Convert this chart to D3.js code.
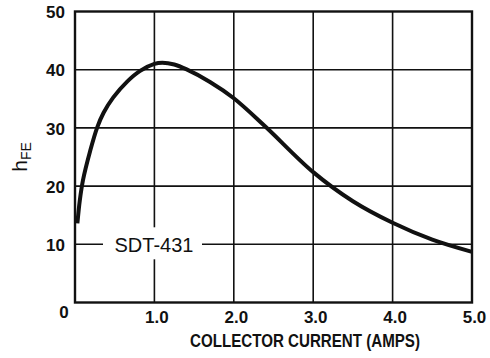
<!DOCTYPE html>
<html>
<head>
<meta charset="utf-8">
<script src="https://cdn.jsdelivr.net/npm/d3@7"></script>
<style>
  html, body { margin: 0; padding: 0; background: #fff; }
  svg { display: block; }
</style>
</head>
<body>
<svg id="chart" width="490" height="358"></svg>
<script>
// ---- data ----
const currentAmps = [0.03, 0.06, 0.10, 0.19, 0.28, 0.36, 0.48, 0.66, 0.82, 1.0, 1.1, 1.25, 1.4, 1.7, 2.0, 2.4, 3.0, 3.5, 4.0, 4.5, 5.0];
const hfeValues   = [13.6, 17.5, 21.0, 26.0, 30.1, 32.6, 35.2, 38.0, 39.8, 41.0, 41.2, 40.9, 40.1, 37.9, 35.1, 30.2, 22.4, 17.4, 13.7, 10.8, 8.7];
const xTickValues = [1, 2, 3, 4, 5];
const xTickLabels = ["1.0", "2.0", "3.0", "4.0", "5.0"];
const yTickValues = [10, 20, 30, 40, 50];
const yTickLabels = ["10", "20", "30", "40", "50"];
const originLabel = "0";
const seriesLabel = "SDT-431";
const seriesLabelValue = 10;
const xTitle = "COLLECTOR CURRENT (AMPS)";

// ---- layout ----
const svg = d3.select("#chart");
const L = 75, R = 472, T = 11.5, B = 302.5;
const x = d3.scaleLinear().domain([0, 5]).range([L, R]);
const y = d3.scaleLinear().domain([0, 50]).range([B, T]);
const ink = "#111";
const tickFont = "'Liberation Sans', Arial, sans-serif";

// grid
const grid = svg.append("g");
grid.selectAll("line.v").data(xTickValues.slice(0, -1)).join("line")
  .attr("x1", d => x(d)).attr("x2", d => x(d))
  .attr("y1", T).attr("y2", B)
  .attr("stroke", ink).attr("stroke-width", 1.6);
grid.selectAll("line.h").data(yTickValues.slice(0, -1)).join("line")
  .attr("x1", L).attr("x2", R)
  .attr("y1", d => y(d)).attr("y2", d => y(d))
  .attr("stroke", ink).attr("stroke-width", 1.6);

// border
svg.append("rect").attr("x", L).attr("y", T).attr("width", R - L).attr("height", B - T)
  .attr("fill", "none").attr("stroke", ink).attr("stroke-width", 2.4);

// axes labels via d3 axes (no domain/tick lines)
const xAxis = d3.axisBottom(x).tickValues(xTickValues).tickSize(0).tickPadding(0)
  .tickFormat((d, i) => xTickLabels[i]);
const gx = svg.append("g").attr("transform", `translate(0,${B})`).call(xAxis);
gx.select(".domain").remove();
gx.selectAll("text").attr("dy", "0").attr("y", 20)
  .attr("font-family", tickFont).attr("font-size", 17).attr("font-weight", 600).attr("fill", ink)
  .attr("text-anchor", "middle").attr("dx", 2);

const yAxis = d3.axisLeft(y).tickValues(yTickValues).tickSize(0).tickPadding(10)
  .tickFormat((d, i) => yTickLabels[i]);
const gy = svg.append("g").attr("transform", `translate(${L},0)`).call(yAxis);
gy.select(".domain").remove();
gy.selectAll("text").attr("dy", "0.36em")
  .attr("font-family", tickFont).attr("font-size", 17).attr("font-weight", 600).attr("fill", ink);

svg.append("text").attr("x", x(0) - 11).attr("y", y(0) + 15)
  .attr("text-anchor", "middle").attr("font-family", tickFont).attr("font-size", 17).attr("font-weight", 600)
  .attr("fill", ink).text(originLabel);

// series label with white box
const ly = y(seriesLabelValue);
svg.append("rect").attr("x", 103).attr("y", ly - 17).attr("width", 99).attr("height", 32).attr("fill", "#fff");
svg.append("text").attr("x", 154).attr("y", ly).attr("dy", "0.36em")
  .attr("text-anchor", "middle").attr("font-family", tickFont).attr("font-size", 20)
  .attr("fill", ink).text(seriesLabel);

// curve
const pts = currentAmps.map((c, i) => [c, hfeValues[i]]);
const line = d3.line().x(d => x(d[0])).y(d => y(d[1])).curve(d3.curveCatmullRom.alpha(0.5));
svg.append("path").attr("d", line(pts)).attr("fill", "none")
  .attr("stroke", ink).attr("stroke-width", 4).attr("stroke-linecap", "butt").attr("stroke-linejoin", "round");

// x title
svg.append("text").attr("x", 305).attr("y", 347)
  .attr("text-anchor", "middle").attr("font-family", "'Liberation Sans Narrow', 'Liberation Sans', Arial, sans-serif")
  .attr("font-size", 18).attr("font-weight", "bold").attr("textLength", 230).attr("lengthAdjust", "spacingAndGlyphs")
  .attr("fill", ink).text(xTitle);

// y title h_FE
const yt = svg.append("text").attr("transform", "translate(27,157) rotate(-90)")
  .attr("text-anchor", "middle").attr("font-family", tickFont).attr("fill", ink);
yt.append("tspan").attr("font-size", 21).text("h");
yt.append("tspan").attr("font-size", 14).attr("dy", 4).text("FE");
</script>
</body>
</html>
